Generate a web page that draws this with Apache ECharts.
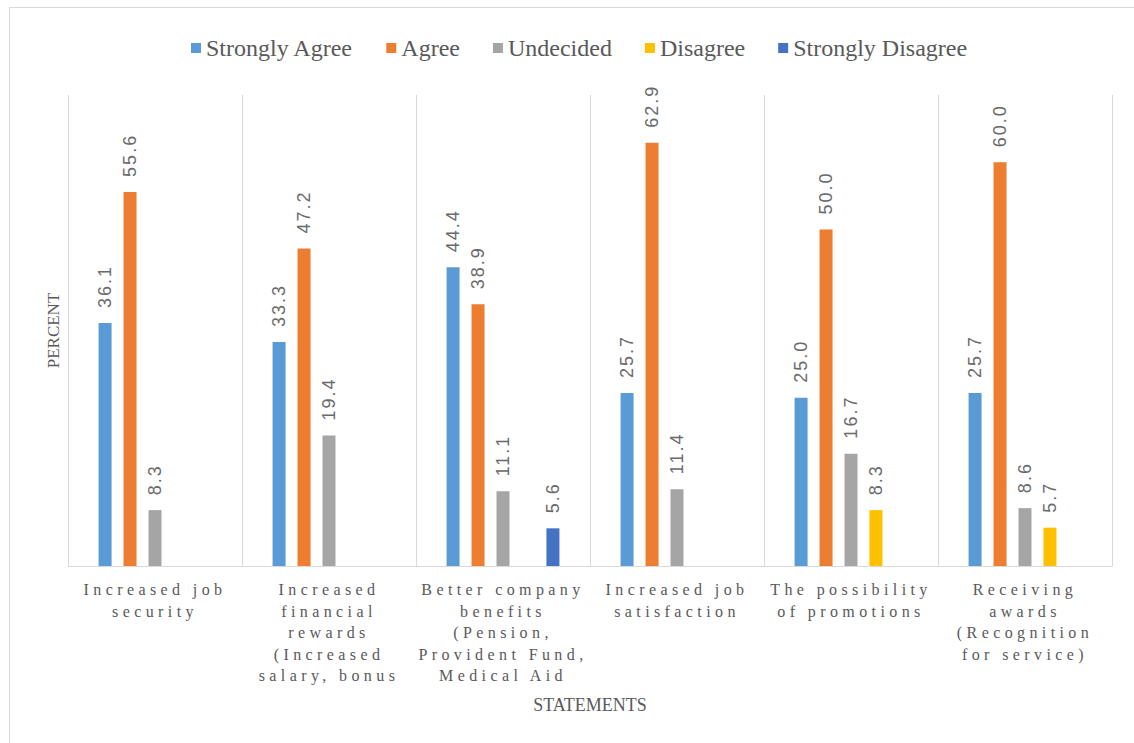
<!DOCTYPE html>
<html>
<head>
<meta charset="utf-8">
<script src="https://cdn.jsdelivr.net/npm/echarts@6/dist/echarts.min.js"></script>
<style>
  html, body { margin: 0; padding: 0; background: #fff; }
  #chart { width: 1134px; height: 743px; }
</style>
</head>
<body>
<div id="chart"></div>
<script>
// Survey statements (category axis), line breaks as laid out under each group
const categories = [
  'Increased job\nsecurity',
  'Increased\nfinancial\nrewards\n(Increased\nsalary, bonus',
  'Better company\nbenefits\n(Pension,\nProvident Fund,\nMedical Aid',
  'Increased job\nsatisfaction',
  'The possibility\nof promotions',
  'Receiving\nawards\n(Recognition\nfor service)'
];

// Percent of respondents per response option
const stronglyAgree    = [36.1, 33.3, 44.4, 25.7, 25.0, 25.7];
const agree            = [55.6, 47.2, 38.9, 62.9, 50.0, 60.0];
const undecided        = [8.3, 19.4, 11.1, 11.4, 16.7, 8.6];
const disagree         = [null, null, null, null, 8.3, 5.7];
const stronglyDisagree = [null, null, 5.6, null, null, null];

const seriesNames = ['Strongly Agree', 'Agree', 'Undecided', 'Disagree', 'Strongly Disagree'];
const seriesData = [stronglyAgree, agree, undecided, disagree, stronglyDisagree];
const colors = ['#5B9BD5', '#ED7D31', '#A5A5A5', '#FFC000', '#4472C4'];

const serif = "'Liberation Serif', 'Times New Roman', serif";
const sans = "'Liberation Sans', Arial, sans-serif";

const chart = echarts.init(document.getElementById('chart'), null, { renderer: 'svg' });

chart.setOption({
  animation: false,
  color: colors,
  textStyle: { fontFamily: serif },
  graphic: [{
    type: 'rect',
    silent: true,
    shape: { x: 9.5, y: 7.5, width: 1140, height: 760 },
    style: { fill: 'none', stroke: '#d9d9d9', lineWidth: 1 }
  }],
  legend: {
    top: 31,
    left: 186,
    itemWidth: 10,
    itemHeight: 10,
    itemGap: 33,
    icon: 'rect',
    textStyle: { fontFamily: serif, fontSize: 24, color: '#595959' },
    data: seriesNames
  },
  grid: { left: 68, right: 22, top: 95, bottom: 177 },
  xAxis: {
    type: 'category',
    data: categories,
    name: 'STATEMENTS',
    nameLocation: 'middle',
    nameGap: 130,
    nameTextStyle: { fontFamily: serif, fontSize: 18, color: '#595959' },
    axisLine: { lineStyle: { color: '#d9d9d9', width: 1 } },
    axisTick: { show: false },
    splitLine: { show: true, interval: 0, lineStyle: { color: '#d9d9d9', width: 1 } },
    axisLabel: {
      interval: 0,
      margin: 13,
      fontFamily: serif,
      fontSize: 16,
      lineHeight: 21.5,
      color: '#595959'
    }
  },
  yAxis: {
    type: 'value',
    min: 0,
    max: 70,
    interval: 10,
    name: 'PERCENT',
    nameLocation: 'middle',
    nameRotate: 90,
    nameGap: 6,
    nameTextStyle: { fontFamily: serif, fontSize: 17, color: '#595959' },
    axisLine: { show: false },
    axisTick: { show: false },
    axisLabel: { show: false },
    splitLine: { show: false }
  },
  series: seriesNames.map((name, i) => ({
    name: name,
    type: 'bar',
    data: seriesData[i],
    barWidth: 13,
    barGap: '92%',
    label: {
      show: true,
      position: 'top',
      rotate: 90,
      align: 'left',
      verticalAlign: 'middle',
      distance: 15,
      fontFamily: sans,
      fontSize: 18,
      color: '#6a6a6a',
      formatter: p => (p.value == null ? '' : Number(p.value).toFixed(1))
    }
  }))
});

// Spaced-out lettering for the statement labels and the value labels
const catLines = new Set();
categories.forEach(c => c.split('\n').forEach(l => catLines.add(l)));
document.querySelectorAll('#chart text').forEach(t => {
  const s = t.textContent;
  if (catLines.has(s)) {
    t.style.letterSpacing = '4.4px';
  } else if (/^\d+\.\d$/.test(s)) {
    t.style.letterSpacing = '2px';
  }
});
</script>
</body>
</html>
